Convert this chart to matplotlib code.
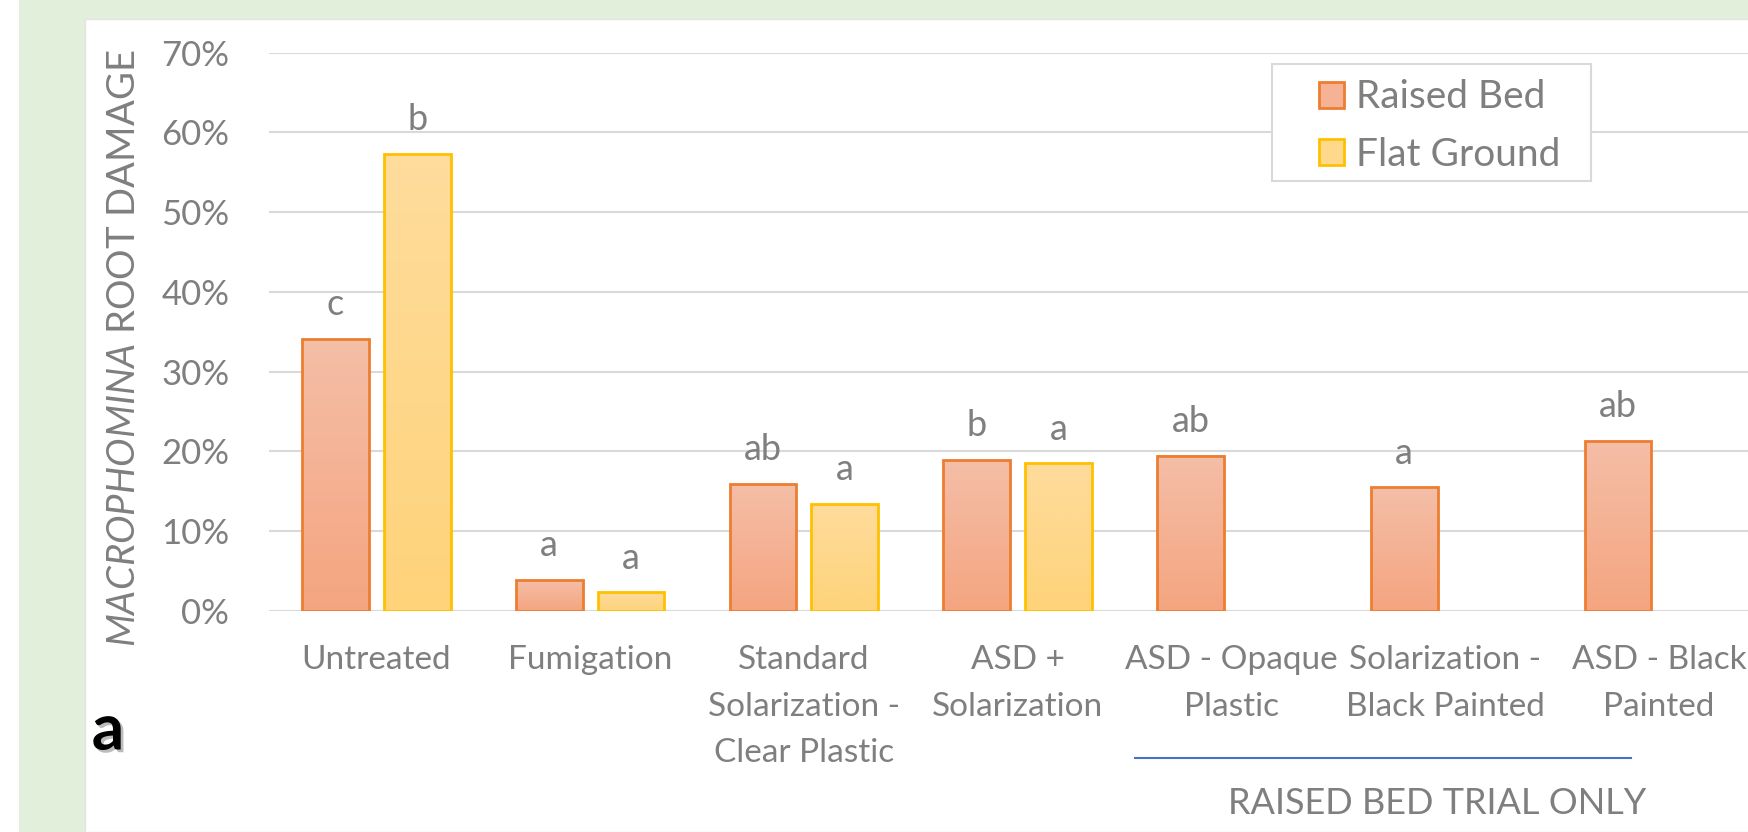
import numpy as np
import matplotlib
matplotlib.use("Agg")
import matplotlib.pyplot as plt
import matplotlib.patheffects as pe
from matplotlib.colors import LinearSegmentedColormap
from matplotlib.patches import Patch, Rectangle
from matplotlib.lines import Line2D

plt.rcParams['font.family'] = ['Lato', 'DejaVu Sans']
plt.rcParams['mathtext.fontset'] = 'custom'
plt.rcParams['mathtext.it'] = 'Lato:italic'
plt.rcParams['mathtext.rm'] = 'Lato'

categories = ["Untreated", "Fumigation", "Standard\nSolarization -\nClear Plastic",
              "ASD +\nSolarization", "ASD - Opaque\nPlastic",
              "Solarization -\nBlack Painted", "ASD - Black\nPainted"]
raised_bed = [34.1, 3.85, 15.9, 18.9, 19.45, 15.5, 21.3]
flat_ground = [57.3, 2.3, 13.4, 18.5, np.nan, np.nan, np.nan]
raised_letters = ["c", "a", "ab", "b", "ab", "a", "ab"]
flat_letters = ["b", "a", "a", "a", "", "", ""]
yticks = [0, 10, 20, 30, 40, 50, 60, 70]

grey = "#7F7F7F"
W, H = 1749, 832
fig = plt.figure(figsize=(W / 100, H / 100), dpi=100)

# green frame + white panel
fig.patches.append(Rectangle((19 / W, 0), 1, 1, transform=fig.transFigure,
                             facecolor="#E2EFDA", edgecolor="none", zorder=-3))
fig.patches.append(Rectangle((85 / W, 0), 1, 1 - 19 / H, transform=fig.transFigure,
                             facecolor="white", edgecolor="#E4E4E4", lw=1, zorder=-2))

ax = fig.add_axes([269.5 / W, (H - 610.7) / H, 1496.2 / W, 558 / H])
ax.set_facecolor("none")

x = np.arange(len(categories))
bw = 0.3126
off = 0.1913


def shade(values, pos, top_col, bot_col, edge):
    cmap = LinearSegmentedColormap.from_list("g", [bot_col, top_col])
    grad = np.linspace(0, 1, 64).reshape(-1, 1)
    for xi, v in zip(pos, values):
        if np.isnan(v):
            continue
        ax.imshow(grad, extent=[xi - bw / 2, xi + bw / 2, 0, v], origin="lower",
                  cmap=cmap, aspect="auto", zorder=2)
        ax.bar(xi, v, bw, facecolor="none", edgecolor=edge, linewidth=2, zorder=3)


shade(raised_bed, x - off, "#F5BEA7", "#F4A580", "#ED7D31")
shade(flat_ground, x + off, "#FEDC9C", "#FED37A", "#FFC000")

for xi, v, t in zip(x - off, raised_bed, raised_letters):
    ax.annotate(t, (xi, v), xytext=(0, 17), textcoords="offset points",
                ha="center", va="baseline", fontsize=26, color=grey)
for xi, v, t in zip(x + off, flat_ground, flat_letters):
    if np.isnan(v):
        continue
    ax.annotate(t, (xi, v), xytext=(0, 17), textcoords="offset points",
                ha="center", va="baseline", fontsize=26, color=grey)

ax.set_xlim(-0.5, len(categories) - 0.5)
ax.set_ylim(0, 70)
ax.set_yticks(yticks)
ax.set_yticklabels([f"{t}%" for t in yticks], fontsize=25, color=grey)
ax.set_xticks(x)
ax.set_xticklabels(categories, fontsize=24, color=grey, linespacing=1.68)
ax.tick_params(axis="both", length=0)
ax.tick_params(axis="y", pad=29)
ax.tick_params(axis="x", pad=25)
ax.yaxis.grid(True, color="#D9D9D9", linewidth=1.5, zorder=0)
ax.set_axisbelow(True)
for s in ax.spines.values():
    s.set_visible(False)

fig.text(124 / W, 1 - 348 / H, r"$\mathit{MACROPHOMINA}$ ROOT DAMAGE", rotation=90,
         ha="center", va="center", fontsize=27.5, color=grey)

# legend: box drawn separately, entries placed inside
fig.patches.append(Rectangle((1272 / W, 1 - 181 / H), 319.5 / W, 117.3 / H,
                             transform=fig.transFigure, facecolor="white",
                             edgecolor="#D9D9D9", lw=1.5, zorder=4))
handles = [Patch(facecolor="#F5B295", edgecolor="#ED7D31", linewidth=2),
           Patch(facecolor="#FED88B", edgecolor="#FFC000", linewidth=2)]
leg = fig.legend(handles, ["Raised Bed", "Flat Ground"], loc="upper left",
                 bbox_to_anchor=(1319 / W, 1 - 79.5 / H), fontsize=28,
                 handlelength=0.64, handleheight=0.64, handletextpad=0.3,
                 labelspacing=0.55, borderpad=0, borderaxespad=0, frameon=False)
leg.set_zorder(5)
for t in leg.get_texts():
    t.set_color(grey)

fig.add_artist(Line2D([1135 / W, 1631 / W], [1 - 757.5 / H, 1 - 757.5 / H],
                      transform=fig.transFigure, color="#4472C4", linewidth=1.5))
fig.text(1436.7 / W, 1 - 803.5 / H, "RAISED BED TRIAL ONLY", ha="center", va="center",
         fontsize=26, color=grey)
fig.text(108 / W, 1 - 731 / H, "a", ha="center", va="center", fontsize=46,
         fontweight="bold", color="black",
         path_effects=[pe.SimplePatchShadow(offset=(2, -2), shadow_rgbFace="#555555",
                                            alpha=0.4), pe.Normal()])

fig.savefig("out.png", dpi=100)
